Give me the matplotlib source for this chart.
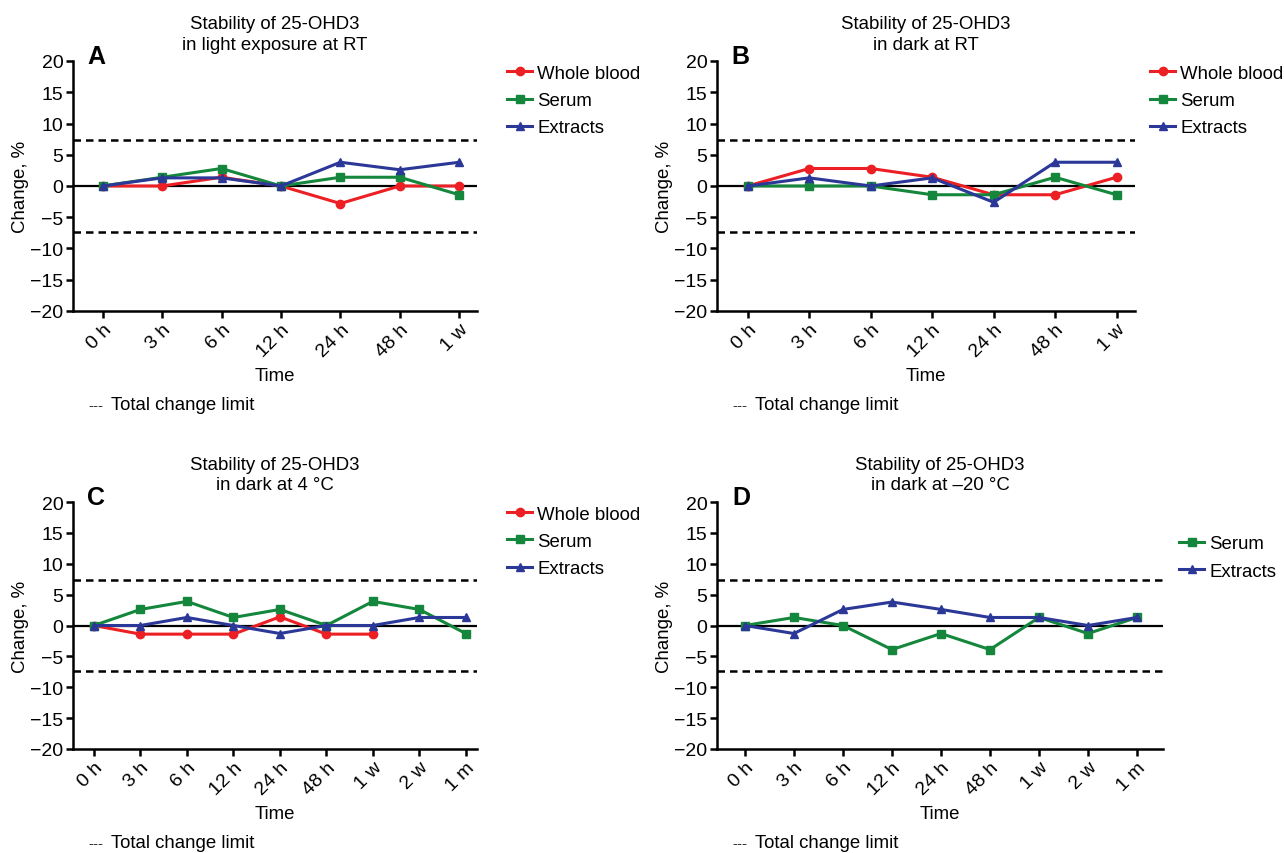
import matplotlib.pyplot as plt
import numpy as np

plt.rcParams['font.family'] = ['Liberation Sans', 'DejaVu Sans']

# time points
times_short = ['0 h', '3 h', '6 h', '12 h', '24 h', '48 h', '1 w']
times_long = ['0 h', '3 h', '6 h', '12 h', '24 h', '48 h', '1 w', '2 w', '1 m']

# A: light exposure at RT
a_blood = [0, 0, 1.4, 0, -2.8, 0, 0]
a_serum = [0, 1.4, 2.8, 0, 1.4, 1.4, -1.4]
a_extr = [0, 1.3, 1.3, 0, 3.8, 2.6, 3.8]

# B: dark at RT
b_blood = [0, 2.8, 2.8, 1.4, -1.4, -1.4, 1.4]
b_serum = [0, 0, 0, -1.4, -1.4, 1.4, -1.4]
b_extr = [0, 1.3, 0, 1.3, -2.6, 3.8, 3.8]

# C: dark at 4 C
c_blood = [0, -1.4, -1.4, -1.4, 1.4, -1.4, -1.4]
c_serum = [0, 2.6, 3.9, 1.3, 2.6, 0, 3.9, 2.6, -1.3]
c_extr = [0, 0, 1.3, 0, -1.3, 0, 0, 1.3, 1.3]

# D: dark at -20 C
d_serum = [0, 1.3, 0, -3.9, -1.3, -3.9, 1.3, -1.3, 1.3]
d_extr = [0, -1.3, 2.6, 3.8, 2.6, 1.3, 1.3, 0, 1.3]

limit = 7.3

red = '#ec2024'
green = '#14873c'
blue = '#2b3897'

fs = 13.4

fig = plt.figure(figsize=(12.84, 8.54), dpi=100)

W, H = 1284, 854
def box(l, r, t, b):
    return [l / W, (H - b) / H, (r - l) / W, (b - t) / H]

panels = [
    ('A', 'Stability of 25-OHD3\nin light exposure at RT', times_short,
     [('Whole blood', a_blood, red, 'o'), ('Serum', a_serum, green, 's'), ('Extracts', a_extr, blue, '^')],
     box(73, 477, 62, 312), (-0.5, 6.3), 30, 0.985),
    ('B', 'Stability of 25-OHD3\nin dark at RT', times_short,
     [('Whole blood', b_blood, red, 'o'), ('Serum', b_serum, green, 's'), ('Extracts', b_extr, blue, '^')],
     box(717, 1135, 62, 312), (-0.5, 6.3), 15, 0.985),
    ('C', 'Stability of 25-OHD3\nin dark at 4 \u00b0C', times_long,
     [('Whole blood', c_blood, red, 'o'), ('Serum', c_serum, green, 's'), ('Extracts', c_extr, blue, '^')],
     box(73, 477, 503, 750), (-0.45, 8.24), 30, 0.985),
    ('D', 'Stability of 25-OHD3\nin dark at \u201320 \u00b0C', times_long,
     [('Serum', d_serum, green, 's'), ('Extracts', d_extr, blue, '^')],
     box(717, 1163, 503, 750), (-0.57, 8.53), 16, 0.865),
]

for letter, title, labels, series, rect, xlim, leg_off, leg_top in panels:
    ax = fig.add_axes(rect)
    for name, vals, col, mk in series:
        ax.plot(np.arange(len(vals)), vals, color=col, marker=mk, markersize=6,
                linewidth=2.2, label=name)
    ax.axhline(0, color='black', linewidth=1.6, zorder=0)
    ax.axhline(limit, color='black', linestyle=(0, (3, 2)), linewidth=1.8, zorder=0)
    ax.axhline(-limit, color='black', linestyle=(0, (3, 2)), linewidth=1.8, zorder=0)
    ax.set_xlim(*xlim)
    ax.set_ylim(-20, 20)
    ax.set_yticks(np.arange(-20, 21, 5))
    ax.set_yticklabels([str(v).replace('-', '\u2212') for v in range(-20, 21, 5)])
    ax.set_xticks(np.arange(len(labels)))
    ax.set_xticklabels(labels, rotation=45, ha='right', rotation_mode='anchor')
    for s in ['top', 'right']:
        ax.spines[s].set_visible(False)
    ax.spines['left'].set_linewidth(1.8)
    ax.spines['bottom'].set_linewidth(1.8)
    ax.tick_params(width=1.8, length=5, labelsize=14, pad=2)
    ax.set_ylabel('Change, %', fontsize=fs, labelpad=1)
    ax.set_xlabel('Time', fontsize=fs, labelpad=5)
    ax.set_title(title, fontsize=fs, pad=9, linespacing=1.3)
    ax.text(0.035, 1.02, letter, transform=ax.transAxes, fontsize=18, fontweight='bold',
            va='center', ha='left')
    ax.legend(loc='upper left', bbox_to_anchor=(1.0 + leg_off / (rect[2] * W), leg_top),
              frameon=False, fontsize=fs, handlelength=1.35, handletextpad=0.27,
              labelspacing=0.55, borderaxespad=0, borderpad=0)
    # total change limit note
    fx = rect[0] + 15 / W
    fy = rect[1] - 94 / H
    fig.text(fx, fy, '---', fontsize=11, va='center', ha='left', color='#333333')
    fig.text(fx + 23 / W, fy, 'Total change limit', fontsize=fs, va='center', ha='left')

fig.savefig('out.png', dpi=100)
